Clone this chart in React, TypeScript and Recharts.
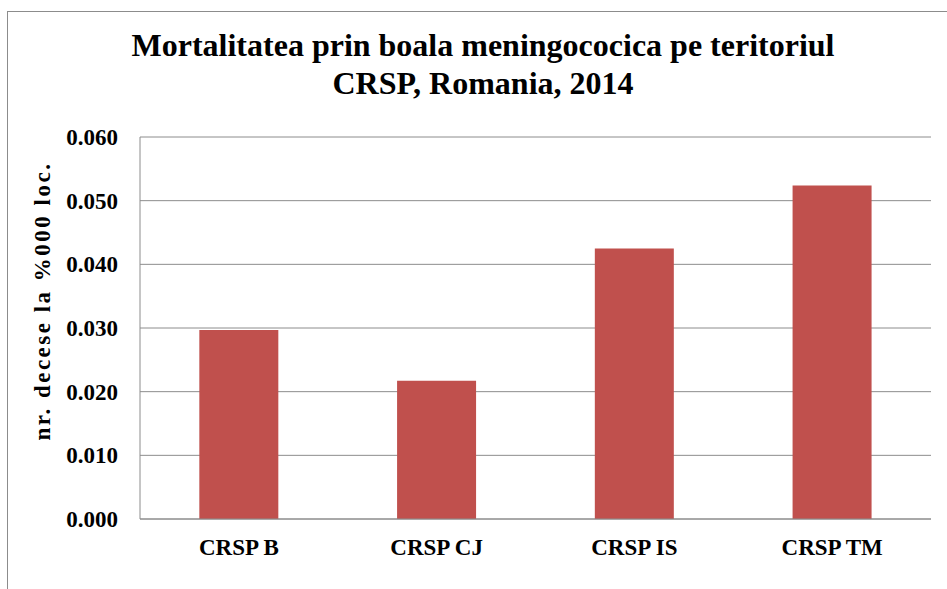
import { Bar, BarChart, CartesianGrid, XAxis, YAxis } from 'recharts';

const categories = ['CRSP B', 'CRSP CJ', 'CRSP IS', 'CRSP TM'];
const mortality = [0.0297, 0.0217, 0.0425, 0.0524];
const yTicks = [0, 0.01, 0.02, 0.03, 0.04, 0.05, 0.06];

const data = categories.map((name, i) => ({ name, value: mortality[i] }));

const FONT = "'Times New Roman', 'Liberation Serif', 'DejaVu Serif', serif";

export default function App() {
  return (
    <div style={{ position: 'absolute', left: 0, top: 0, width: 947, height: 589, overflow: 'hidden', background: '#fff', fontFamily: FONT }}>
      <div style={{ position: 'absolute', left: 7, top: 11, width: 1000, height: 700, border: '1px solid #8c8c8c' }} />
      <div style={{ position: 'absolute', left: 0, width: 966, top: 26, textAlign: 'center', fontWeight: 'bold', fontSize: 32, lineHeight: '38px', color: '#000' }}>
        Mortalitatea prin boala meningococica pe teritoriul
        <br />
        CRSP, Romania, 2014
      </div>
      <div
        style={{
          position: 'absolute',
          left: 43,
          top: 301,
          transform: 'translate(-50%, -50%) rotate(-90deg)',
          whiteSpace: 'nowrap',
          fontWeight: 'bold',
          fontSize: 23,
          letterSpacing: 2.5,
          color: '#000'
        }}
      >
        nr. decese la %000 loc.
      </div>
      <div style={{ position: 'absolute', left: 0, top: 0 }}>
        <BarChart width={947} height={589} data={data} margin={{ top: 137, right: 16, left: 40, bottom: 36 }} barCategoryGap="30%">
          <CartesianGrid vertical={false} stroke="#8c8c8c" strokeWidth={1} />
          <XAxis
            dataKey="name"
            height={34}
            axisLine={{ stroke: '#8c8c8c' }}
            tickLine={false}
            tickMargin={14}
            tick={{ fontSize: 23, fontWeight: 'bold', fill: '#000', fontFamily: FONT }}
          />
          <YAxis
            width={100}
            domain={[0, 0.06]}
            ticks={yTicks}
            interval={0}
            tickFormatter={(v: number) => v.toFixed(3)}
            axisLine={{ stroke: '#8c8c8c' }}
            tickLine={false}
            tickMargin={16}
            tick={{ fontSize: 23, fontWeight: 'bold', fill: '#000', fontFamily: FONT }}
          />
          <Bar dataKey="value" fill="#C0504D" isAnimationActive={false} />
        </BarChart>
      </div>
    </div>
  );
}
